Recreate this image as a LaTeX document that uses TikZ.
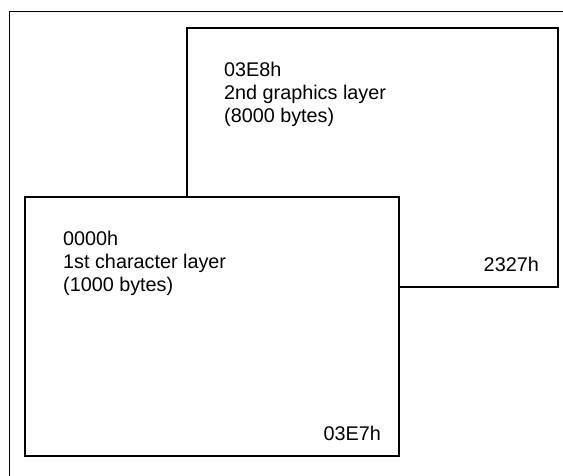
\documentclass[tikz,border=0pt]{standalone}
\usepackage{fontspec}
\setmainfont{Liberation Sans}
\begin{document}
\begin{tikzpicture}[x=1pt,y=-1pt,
  layerbox/.style={draw=black,line width=1.8pt,fill=white,anchor=north west,inner sep=0pt,minimum height=259pt},
  lbl/.style={inner sep=0pt,font=\fontsize{19.8}{23.4}\selectfont}]
  \useasboundingbox (0,0) rectangle (563,476);
  \clip (0,0) rectangle (563,476);
  % outer frame, runs off the page at right and bottom
  \draw[line width=0.9pt] (9.5,11) rectangle (580,490);
  \node[layerbox,minimum width=371pt] (gfx) at (186,27) {};
  \node[layerbox,minimum width=374pt] (chr) at (24,196) {};
  \node[lbl,anchor=north west,align=left] (gfxtxt) at (224,61.5) {03E8h\\2nd graphics layer\\(8000 bytes)};
  \node[lbl,anchor=north west,align=left] (chrtxt) at (63,230.5) {0000h\\1st character layer\\(1000 bytes)};
  \node[lbl,anchor=base east] (gfxend) at (539,272) {2327h};
  \node[lbl,anchor=base east] (chrend) at (381,440.7) {03E7h};
\end{tikzpicture}
\end{document}
